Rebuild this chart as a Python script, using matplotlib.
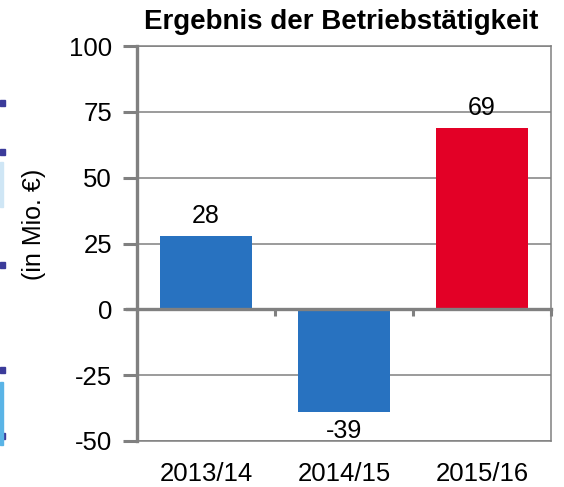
import matplotlib.pyplot as plt
from matplotlib.patches import Rectangle

# Daten
jahre = ['2013/14', '2014/15', '2015/16']
ergebnis = [28, -39, 69]
farben = ['#2872C0', '#2872C0', '#E30026']
y_ticks = [-50, -25, 0, 25, 50, 75, 100]

grau = '#808080'
plt.rcParams['font.family'] = ['Liberation Sans', 'DejaVu Sans']

fig = plt.figure(figsize=(5.64, 4.87), dpi=100)
ax = fig.add_axes([137 / 564, 1 - 441 / 487, 414 / 564, 395 / 487])

x = range(len(jahre))
bars = ax.bar(x, ergebnis, width=0.667, color=farben, zorder=3)

# Werte an den Balken
for xi, v in zip(x, ergebnis):
    if v >= 0:
        ax.text(xi, v + 3, str(v), ha='center', va='bottom', fontsize=18)
    else:
        ax.text(xi, v - 2.5, str(v), ha='center', va='top', fontsize=18)

ax.set_xlim(-0.5, 2.5)
ax.set_ylim(-50, 100)
ax.set_yticks(y_ticks)
ax.set_yticklabels([str(t) for t in y_ticks], fontsize=18.5)
ax.set_xticks(list(x))
ax.set_xticklabels(jahre, fontsize=18.5)
ax.tick_params(axis='x', length=0, pad=15)
ax.tick_params(axis='y', length=10, width=2.2, color=grau, pad=8)

# Gitterlinien
ax.yaxis.grid(True, color=grau, linewidth=1.1, zorder=0)
ax.set_axisbelow(True)

for s in ['top', 'right', 'bottom']:
    ax.spines[s].set_color(grau)
    ax.spines[s].set_linewidth(1.1)
ax.spines['left'].set_color(grau)
ax.spines['left'].set_linewidth(2.4)

# Nulllinie mit Teilstrichen zwischen den Kategorien
ax.axhline(0, xmin=-10 / 414, xmax=1, color=grau, linewidth=2.4,
           zorder=4, clip_on=False)
for b in [0.5, 1.5, 2.5]:
    ax.plot([b, b], [0, -2.6], color=grau, linewidth=2.2, zorder=4,
            clip_on=False, solid_capstyle='butt')

ax.set_ylabel('(in Mio. €)', fontsize=18)
ax.yaxis.set_label_coords(-0.22, 0.549)

fig.text(341 / 564, 1 - 22 / 487, 'Ergebnis der Betriebstätigkeit',
         ha='center', va='center', fontsize=20, fontweight='bold')

# Reste vom linken Rand
for yy in [103, 152, 265, 370, 436]:
    fig.patches.append(Rectangle((0, 1 - (yy + 3) / 487), 5 / 564, 6 / 487,
                                 transform=fig.transFigure, color='#3B3B9A'))
fig.patches.append(Rectangle((0, 1 - 207 / 487), 3 / 564, 45 / 487,
                             transform=fig.transFigure, color='#CFE6F5'))
fig.patches.append(Rectangle((0, 1 - 445 / 487), 3 / 564, 63 / 487,
                             transform=fig.transFigure, color='#5AB4E6'))

fig.savefig('out.png', dpi=100)
